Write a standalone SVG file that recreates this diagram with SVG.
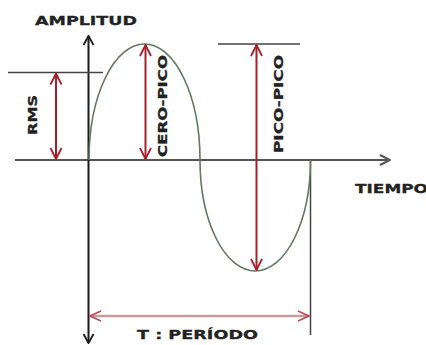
<svg xmlns="http://www.w3.org/2000/svg" width="426" height="345" viewBox="0 0 426 345">
<style>
.lbl{font-family:"DejaVu Sans","Liberation Sans",Arial,sans-serif;font-weight:bold;fill:#222;font-size:13px;stroke:#222;stroke-width:0.3}
.axis{stroke:#1a1a1a;stroke-width:2;fill:none}
.haxis{stroke:#555;stroke-width:2;fill:none}
.ref{stroke:#444;stroke-width:1.5;fill:none}
.red{stroke:#a3202a;stroke-width:2;fill:none}
.per{stroke:#c99a9a;stroke-width:2.5;fill:none}
.wave{stroke:#5f7a5f;stroke-width:1.6;fill:none}
</style>
<defs>
<marker id="ak" viewBox="0 0 12 12" refX="11" refY="6" markerWidth="12" markerHeight="12" markerUnits="userSpaceOnUse" orient="auto-start-reverse"><path d="M2,1 L11,6 L2,11" fill="none" stroke="#1a1a1a" stroke-width="1.8"/></marker>
<marker id="ag" viewBox="0 0 14 14" refX="13" refY="7" markerWidth="14" markerHeight="14" markerUnits="userSpaceOnUse" orient="auto"><path d="M3,2 L13,7 L3,12" fill="none" stroke="#555" stroke-width="2"/></marker>
<marker id="ar" viewBox="0 0 14 14" refX="13" refY="7" markerWidth="14" markerHeight="14" markerUnits="userSpaceOnUse" orient="auto-start-reverse"><path d="M2,1.5 L13,7 L2,12.5" fill="none" stroke="#a3202a" stroke-width="1.8"/></marker>
<marker id="ap" viewBox="0 0 14 14" refX="13" refY="7" markerWidth="14" markerHeight="14" markerUnits="userSpaceOnUse" orient="auto-start-reverse"><path d="M2,2 L13,7 L2,12" fill="none" stroke="#b5505a" stroke-width="1.8"/></marker>
</defs>
<g id="axes">
<line class="haxis" x1="15" y1="160" x2="390" y2="160" marker-end="url(#ag)"/>
<line class="axis" x1="88.5" y1="343" x2="88.5" y2="36" marker-start="url(#ak)" marker-end="url(#ak)"/>
<line class="ref" x1="8" y1="72.5" x2="103" y2="72.5"/>
<line class="ref" x1="218" y1="44" x2="300" y2="44"/>
<line class="ref" x1="310.5" y1="160" x2="310.5" y2="335"/>
</g>
<g id="wave">
<path class="wave" d="M89,160 A55.5,116 0 0 1 200,160 A55.25,111 0 0 0 310.5,160"/>
</g>
<g id="connectors">
<line class="red" x1="56" y1="159" x2="56" y2="73.5" marker-start="url(#ar)" marker-end="url(#ar)"/>
<line class="red" x1="145.5" y1="159" x2="145.5" y2="45" marker-start="url(#ar)" marker-end="url(#ar)"/>
<line class="red" x1="256.5" y1="270" x2="256.5" y2="45" marker-start="url(#ar)" marker-end="url(#ar)"/>
<line class="per" x1="90" y1="316" x2="309" y2="316" marker-start="url(#ap)" marker-end="url(#ap)"/>
</g>
<g id="labels">
<text class="lbl" x="35" y="25" textLength="102" lengthAdjust="spacingAndGlyphs">AMPLITUD</text>
<text class="lbl" x="355" y="193" textLength="73" lengthAdjust="spacingAndGlyphs">TIEMPO</text>
<text class="lbl" x="137" y="339" font-size="14" textLength="121" lengthAdjust="spacingAndGlyphs">T :  PERÍODO</text>
<text class="lbl" transform="translate(37,135) rotate(-90)" textLength="40" lengthAdjust="spacingAndGlyphs">RMS</text>
<text class="lbl" transform="translate(167,157) rotate(-90)" textLength="102" lengthAdjust="spacingAndGlyphs">CERO-PICO</text>
<text class="lbl" transform="translate(283,153) rotate(-90)" textLength="98" lengthAdjust="spacingAndGlyphs">PICO-PICO</text>
</g>
</svg>
